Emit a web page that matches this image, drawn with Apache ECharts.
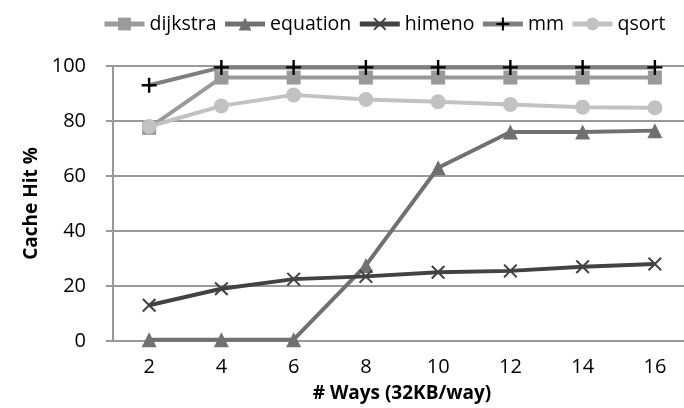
<!DOCTYPE html>
<html>
<head>
<meta charset="utf-8">
<script src="https://cdn.jsdelivr.net/npm/echarts@6/dist/echarts.min.js"></script>
<style>
  html, body { margin: 0; padding: 0; background: #fff; overflow: hidden; }
  #chart { width: 691px; height: 408px; }
</style>
</head>
<body>
<div id="chart"></div>
<script>
var ways = ['2', '4', '6', '8', '10', '12', '14', '16'];
var dijkstra = [77.5, 95.8, 95.8, 95.8, 95.8, 95.8, 95.8, 95.8];
var equation = [0.5, 0.5, 0.5, 27.5, 63, 76, 76, 76.5];
var himeno = [13, 19, 22.5, 23.5, 25, 25.5, 27, 28];
var mm = [93, 99.5, 99.5, 99.5, 99.5, 99.5, 99.5, 99.5];
var qsort = [78, 85.5, 89.5, 87.8, 87, 86, 85, 84.8];

var plus = 'path://M4.2,0H5.8V4.2H10V5.8H5.8V10H4.2V5.8H0V4.2H4.2Z';
var cross = 'path://M1,0L5,4L9,0L10,1L6,5L10,9L9,10L5,6L1,10L0,9L4,5L0,1Z';
var font = 'Open Sans';

var chartDom = document.getElementById('chart');
var myChart = echarts.init(chartDom);

function line(name, data, color, symbol, size, markColor) {
  return {
    name: name,
    type: 'line',
    data: data,
    symbol: symbol,
    symbolSize: size,
    showAllSymbol: true,
    lineStyle: { color: color, width: 4 },
    itemStyle: { color: markColor || color },
    emphasis: { disabled: true },
    animation: false
  };
}

var option = {
  textStyle: { fontFamily: font },
  legend: {
    top: 9,
    left: 97,
    itemWidth: 40,
    itemHeight: 16,
    itemGap: 6,
    lineStyle: { width: 5 },
    textStyle: { fontFamily: font, fontSize: 19.5, color: '#000' },
    data: ['dijkstra', 'equation', 'himeno', 'mm', 'qsort']
  },
  grid: { left: 113, right: 0, top: 66, bottom: 65 },
  xAxis: {
    type: 'category',
    data: ways,
    boundaryGap: true,
    name: '# Ways (32KB/way)',
    nameLocation: 'middle',
    nameGap: 43,
    nameTextStyle: { fontFamily: font, fontSize: 19, fontWeight: 'bold', color: '#000' },
    axisLine: { lineStyle: { color: '#999', width: 2 } },
    axisTick: { length: 7, lineStyle: { color: '#999', width: 2 } },
    axisLabel: { fontFamily: font, fontSize: 20, color: '#000', margin: 16 }
  },
  yAxis: {
    type: 'value',
    min: 0,
    max: 100,
    interval: 20,
    name: 'Cache Hit %',
    nameLocation: 'middle',
    nameGap: 70,
    nameRotate: 90,
    nameTextStyle: { fontFamily: font, fontSize: 19, fontWeight: 'bold', color: '#000' },
    axisLine: { show: true, lineStyle: { color: '#999', width: 2 } },
    axisTick: { show: true, length: 7, lineStyle: { color: '#999', width: 2 } },
    axisLabel: { fontFamily: font, fontSize: 20, color: '#000', margin: 27 },
    splitLine: { lineStyle: { color: '#999', width: 2 } }
  },
  series: [
    line('dijkstra', dijkstra, '#9a9a9a', 'rect', 14),
    line('equation', equation, '#707070', 'triangle', 15),
    line('himeno', himeno, '#424242', cross, 14),
    line('mm', mm, '#7f7f7f', plus, 15, '#000'),
    line('qsort', qsort, '#c2c2c2', 'circle', 15)
  ]
};
option && myChart.setOption(option);
</script>
</body>
</html>
